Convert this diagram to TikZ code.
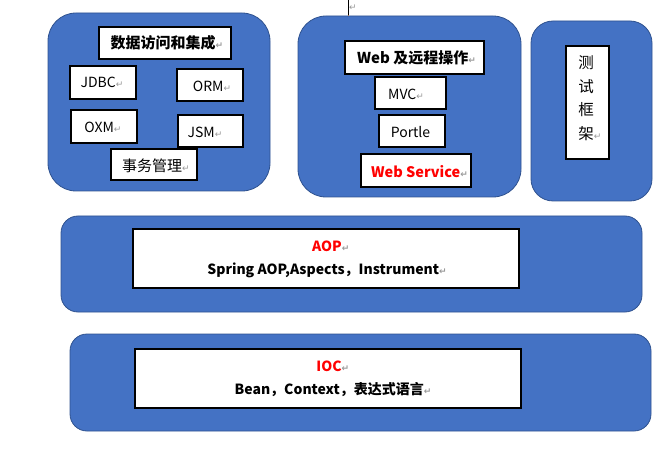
\documentclass[tikz,border=0pt]{standalone}
\usepackage{fontspec}
\setmainfont{Noto Sans CJK SC}
\newfontfamily\arrowfont{DejaVu Sans}
\newcommand\retm{{\arrowfont\fontsize{9}{9}\selectfont\color{black!40}↵}}
\definecolor{bandblue}{HTML}{4472C4}
\definecolor{bandedge}{HTML}{2F528F}
\definecolor{wordred}{HTML}{FF0000}
\begin{document}
\begin{tikzpicture}[x=1pt,y=-1pt,
  band/.style={draw=bandedge,line width=0.8pt,fill=bandblue,rounded corners=#1,inner sep=0pt},
  band/.default=28pt,
  wbox/.style={draw=black,line width=1.1pt,fill=white,inner sep=0pt},
  txt/.style={inner sep=0pt,font=\fontsize{14}{16}\selectfont},
  btxt/.style={inner sep=0pt,font=\fontsize{14}{16}\selectfont\bfseries},
  htxt/.style={inner sep=0pt,font=\fontsize{15}{17}\selectfont\bfseries}]
\useasboundingbox (0,0) rectangle (671,454);
% cursor artifact
\coordinate (c1) at (348.5,0);
\coordinate (c2) at (348.5,15);
\coordinate (c3) at (348.5,18);
\draw[line width=0.8pt] (c1) -- (c2);
\draw[line width=0.8pt,orange] (c2) -- (c3);
\node[inner sep=0pt] (cur) at (353,8) {\retm};
% big blocks
\node[band=28pt,minimum width=222pt,minimum height=178pt] (data) at (159,102) {};
\node[band=28pt,minimum width=223pt,minimum height=181pt] (web) at (409.5,106.5) {};
\node[band=22pt,minimum width=121pt,minimum height=180pt] (test) at (591.5,111) {};
\node[band=17pt,minimum width=581pt,minimum height=96pt] (aop) at (351.5,264) {};
\node[band=17pt,minimum width=581pt,minimum height=97pt] (ioc) at (360.5,382.5) {};
% data access
\node[wbox,minimum width=132pt,minimum height=32pt] (dah) at (165,43) {};
\node[htxt] (daht) at (167,43) {数据访问和集成\retm};
\node[wbox,minimum width=66pt,minimum height=33pt] (jdbc) at (103,82.5) {};
\node[txt] (jdbct) at (102,82.5) {JDBC\retm};
\node[wbox,minimum width=66pt,minimum height=32pt] (orm) at (210,85) {};
\node[txt] (ormt) at (212,86) {ORM\retm};
\node[wbox,minimum width=66pt,minimum height=33pt] (oxm) at (104,126.5) {};
\node[txt] (oxmt) at (103,127) {OXM\retm};
\node[wbox,minimum width=65pt,minimum height=32pt] (jsm) at (210.5,131) {};
\node[txt] (jsmt) at (205,132) {JSM\retm};
\node[wbox,minimum width=86pt,minimum height=31pt] (tx) at (154,164.5) {};
\node[txt,font=\fontsize{15}{17}\selectfont] (txt1) at (156,165.5) {事务管理\retm};
% web
\node[wbox,minimum width=139pt,minimum height=33pt] (wh) at (414.5,57.5) {};
\node[htxt] (wht) at (416.5,58) {Web 及远程操作\retm};
\node[wbox,minimum width=71pt,minimum height=32pt] (mvc) at (410.5,93) {};
\node[txt] (mvct) at (406,94) {MVC\retm};
\node[wbox,minimum width=66pt,minimum height=32pt] (portle) at (412,131) {};
\node[txt] (portlet) at (410.5,132) {Portle};
\node[wbox,minimum width=110pt,minimum height=33pt] (ws) at (416,170.5) {};
\node[btxt,text=wordred,font=\fontsize{14.5}{17}\selectfont\bfseries] (wst) at (419.5,171.5) {Web Service\retm};
% test
\node[wbox,minimum width=43pt,minimum height=113pt] (tf) at (587.5,102.5) {};
\node[txt,align=center,font=\fontsize{15.5}{23.5}\selectfont] (tft) at (586,98) {测\\试\\框\\架\rlap{\retm}};
% AOP
\node[wbox,minimum width=386pt,minimum height=59pt] (aopb) at (326,258.5) {};
\node[btxt,text=wordred] (aopt) at (327,246) {AOP\rlap{\retm}};
\node[btxt] (aops) at (327,270) {Spring AOP,Aspects，Instrument\retm};
% IOC
\node[wbox,minimum width=386pt,minimum height=59pt] (iocb) at (328,378.5) {};
\node[btxt,text=wordred] (ioct) at (329,366.5) {IOC\rlap{\retm}};
\node[btxt] (iocs) at (333,390) {Bean，Context，表达式语言\retm};
\end{tikzpicture}
\end{document}
